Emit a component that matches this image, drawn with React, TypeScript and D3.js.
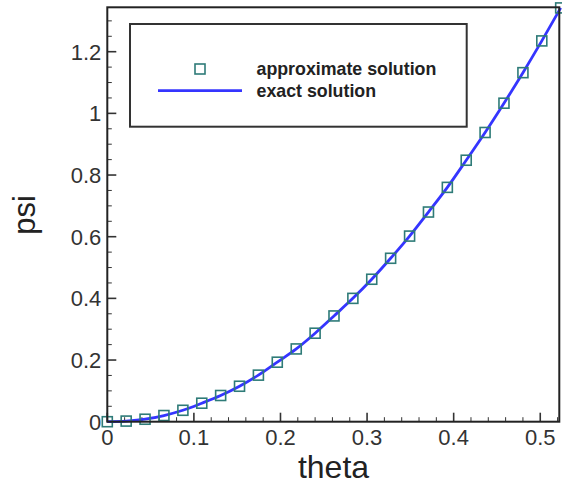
import React from "react";
import * as d3 from "d3";

const thetaApprox = [0, 0.0218, 0.0436, 0.0654, 0.0873, 0.1091, 0.1309, 0.1527, 0.1745, 0.1963, 0.2182, 0.24, 0.2618, 0.2836, 0.3054, 0.3272, 0.3491, 0.3709, 0.3927, 0.4145, 0.4363, 0.4581, 0.48, 0.5018, 0.5236];
const psiApprox = [0, 0.002, 0.008, 0.02, 0.037, 0.06, 0.085, 0.115, 0.151, 0.193, 0.236, 0.287, 0.343, 0.4, 0.462, 0.53, 0.602, 0.68, 0.76, 0.848, 0.938, 1.033, 1.132, 1.235, 1.342];
const thetaExact = thetaApprox;
const psiExact = psiApprox;
const xTicks = [0, 0.1, 0.2, 0.3, 0.4, 0.5];
const yTicks = [0, 0.2, 0.4, 0.6, 0.8, 1, 1.2];
const legendLabels = ["approximate solution", "exact solution"];

export default function App() {
  const W = 562, H = 486;
  const left = 107.3, right = 559.3, top = 7.3, bottom = 421.7;
  const x = d3.scaleLinear().domain([0, 0.522]).range([left, right]);
  const y = d3.scaleLinear().domain([0, 1.344]).range([bottom, top]);
  const xMinor = d3.range(0, 0.5221, 0.02).filter(v => Math.abs(v * 10 - Math.round(v * 10)) > 1e-6);
  const yMinor = d3.range(0, 1.3441, 0.05).filter(v => Math.abs(v * 5 - Math.round(v * 5)) > 1e-6);
  const line = d3.line<number>().x((_, i) => x(thetaExact[i])).y((_, i) => y(psiExact[i])).curve(d3.curveMonotoneX);
  const font = "'Liberation Sans', Arial, sans-serif";
  const tickColor = "#333";
  const marker = "#2e7b78";
  const sq = 10;
  return (
    <svg width={W} height={H} style={{ position: "absolute", left: 0, top: 0 }} fontFamily={font}>
      <rect x={0} y={0} width={W} height={H} fill="#fff" />
      {xMinor.map((v, i) => (
        <line key={"xm" + i} x1={x(v)} x2={x(v)} y1={bottom} y2={bottom - 4.5} stroke={tickColor} strokeWidth={1} />
      ))}
      {yMinor.map((v, i) => (
        <line key={"ym" + i} x1={left} x2={left + 4.5} y1={y(v)} y2={y(v)} stroke={tickColor} strokeWidth={1} />
      ))}
      {xTicks.map((v, i) => (
        <g key={"xt" + i}>
          <line x1={x(v)} x2={x(v)} y1={bottom} y2={bottom - 9} stroke={tickColor} strokeWidth={1.6} />
          <text x={x(v)} y={bottom + 23.5} textAnchor="middle" fontSize={22} fill="#333">{String(v)}</text>
        </g>
      ))}
      {yTicks.map((v, i) => (
        <g key={"yt" + i}>
          <line x1={left} x2={left + 9} y1={y(v)} y2={y(v)} stroke={tickColor} strokeWidth={1.6} />
          <text x={left - 6} y={y(v) + 8} textAnchor="end" fontSize={22} fill="#333">{String(v)}</text>
        </g>
      ))}
      <path d={line(thetaExact) || ""} fill="none" stroke="#3535ff" strokeWidth={2.8} />
      {thetaApprox.map((t, i) => (
        <rect key={"m" + i} x={x(t) - sq / 2} y={y(psiApprox[i]) - sq / 2} width={sq} height={sq} fill="none" stroke={marker} strokeWidth={1.6} />
      ))}
      <rect x={left} y={top} width={right - left} height={bottom - top} fill="none" stroke="#222" strokeWidth={2} />
      <rect x={130} y={24} width={336.7} height={102.7} fill="#fff" stroke="#333" strokeWidth={2} />
      <rect x={200 - 5} y={69 - 5} width={10} height={10} fill="none" stroke={marker} strokeWidth={1.6} />
      <line x1={158} x2={242} y1={90.7} y2={90.7} stroke="#3535ff" strokeWidth={2.8} />
      <text x={256.5} y={75} fontSize={17.8} fontWeight="bold" fill="#222">{legendLabels[0]}</text>
      <text x={256.5} y={96.5} fontSize={17.8} fontWeight="bold" fill="#222">{legendLabels[1]}</text>
      <text x={333.5} y={478} textAnchor="middle" fontSize={32} fill="#222">theta</text>
      <text transform={`translate(35, 215) rotate(-90)`} textAnchor="middle" fontSize={31} fill="#222">psi</text>
    </svg>
  );
}
